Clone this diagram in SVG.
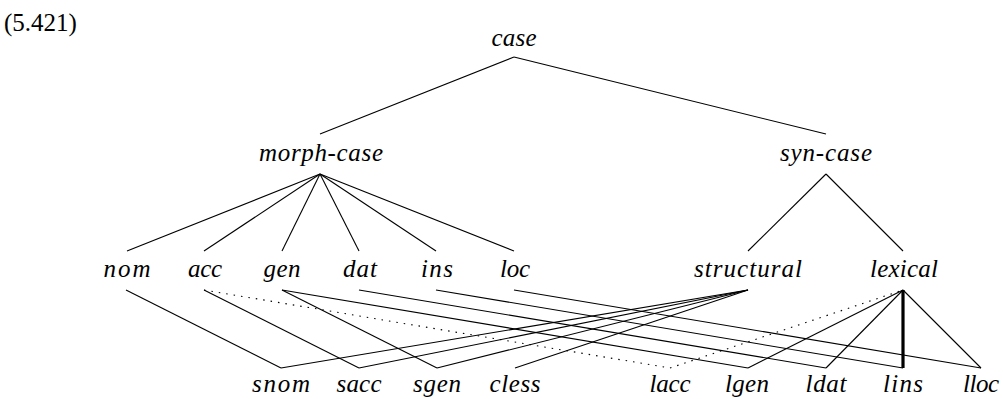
<svg xmlns="http://www.w3.org/2000/svg" width="1003" height="399" viewBox="0 0 1003 399">
<style>
text{font-family:"Liberation Serif","Times New Roman",serif;font-size:25px;fill:#000}
.n text{font-style:italic;text-anchor:middle}
.e line{stroke:#000;stroke-width:1.1;fill:none}
.e line.d{stroke-dasharray:1.5 6}
.e line.t{stroke-width:3.2}
</style>
<rect width="1003" height="399" fill="#fff"/>
<text id="label" x="4" y="31" font-size="24">(5.421)</text>
<g class="n">
<g id="case"><text x="514" y="46" textLength="45" lengthAdjust="spacing">case</text></g>
<g id="morph-case"><text x="321" y="161" textLength="124" lengthAdjust="spacing">morph-case</text></g>
<g id="syn-case"><text x="826" y="161" textLength="92" lengthAdjust="spacing">syn-case</text></g>
<g id="nom"><text x="127" y="277" textLength="47" lengthAdjust="spacing">nom</text></g>
<g id="acc"><text x="205" y="277" textLength="34" lengthAdjust="spacing">acc</text></g>
<g id="gen"><text x="282" y="277" textLength="37" lengthAdjust="spacing">gen</text></g>
<g id="dat"><text x="360" y="277" textLength="34" lengthAdjust="spacing">dat</text></g>
<g id="ins"><text x="437" y="277" textLength="32" lengthAdjust="spacing">ins</text></g>
<g id="loc"><text x="515" y="277" textLength="30" lengthAdjust="spacing">loc</text></g>
<g id="structural"><text x="748" y="277" textLength="108" lengthAdjust="spacing">structural</text></g>
<g id="lexical"><text x="904" y="277" textLength="68" lengthAdjust="spacing">lexical</text></g>
<g id="snom"><text x="281" y="392" textLength="58" lengthAdjust="spacing">snom</text></g>
<g id="sacc"><text x="359" y="392" textLength="45" lengthAdjust="spacing">sacc</text></g>
<g id="sgen"><text x="437" y="392" textLength="48" lengthAdjust="spacing">sgen</text></g>
<g id="cless"><text x="515" y="392" textLength="51" lengthAdjust="spacing">cless</text></g>
<g id="lacc"><text x="670" y="392" textLength="41" lengthAdjust="spacing">lacc</text></g>
<g id="lgen"><text x="747" y="392" textLength="44" lengthAdjust="spacing">lgen</text></g>
<g id="ldat"><text x="826" y="392" textLength="41" lengthAdjust="spacing">ldat</text></g>
<g id="lins"><text x="903" y="392" textLength="40" lengthAdjust="spacing">lins</text></g>
<g id="lloc"><text x="981" y="392" textLength="36" lengthAdjust="spacing">lloc</text></g>
</g>
<g id="connectors" class="e">
<line x1="514" y1="57" x2="320" y2="134"/>
<line x1="514" y1="57" x2="826" y2="134"/>
<line x1="320" y1="174" x2="127" y2="251"/>
<line x1="320" y1="174" x2="204" y2="251"/>
<line x1="320" y1="174" x2="282" y2="251"/>
<line x1="320" y1="174" x2="359" y2="251"/>
<line x1="320" y1="174" x2="436" y2="251"/>
<line x1="320" y1="174" x2="514" y2="251"/>
<line x1="826" y1="174" x2="748" y2="251"/>
<line x1="826" y1="174" x2="903" y2="251"/>
<line x1="126" y1="290" x2="281" y2="368"/>
<line x1="281" y1="368" x2="748" y2="290"/>
<line x1="204" y1="290" x2="359" y2="368"/>
<line x1="359" y1="368" x2="748" y2="290"/>
<line x1="282" y1="290" x2="437" y2="368"/>
<line x1="437" y1="368" x2="748" y2="290"/>
<line x1="515" y1="368" x2="748" y2="290"/>
<line class="d" x1="204" y1="290" x2="670" y2="368"/>
<line class="d" x1="670" y1="368" x2="903" y2="290"/>
<line x1="282" y1="290" x2="748" y2="368"/>
<line x1="748" y1="368" x2="903" y2="290"/>
<line x1="359" y1="290" x2="826" y2="368"/>
<line x1="826" y1="368" x2="903" y2="290"/>
<line x1="436" y1="290" x2="903" y2="368"/>
<line class="t" x1="903" y1="290" x2="903" y2="368"/>
<line x1="514" y1="290" x2="981" y2="368"/>
<line x1="981" y1="368" x2="903" y2="290"/>
</g>
</svg>
